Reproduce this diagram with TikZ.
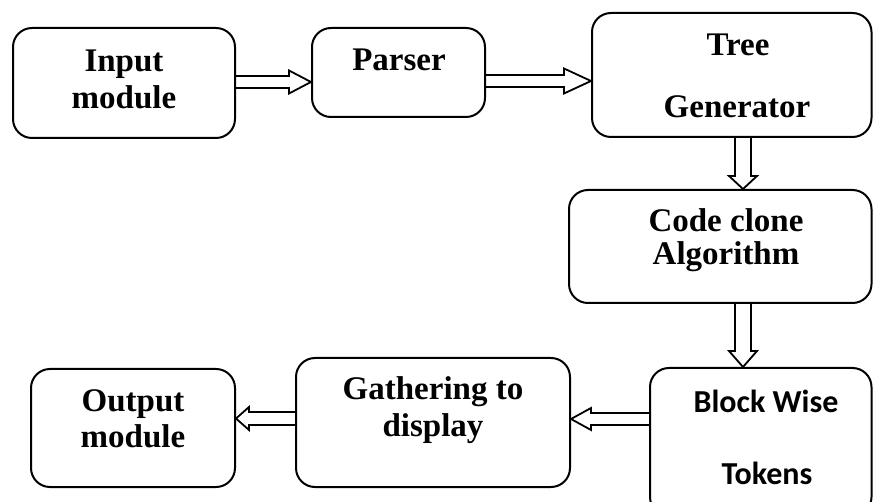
\documentclass[tikz,border=0pt]{standalone}
\usepackage{fontspec}
\setmainfont{Liberation Serif}
\newfontfamily\calfont{Carlito}
\usetikzlibrary{calc}
\tikzset{
  box/.style={draw, line width=2pt, rounded corners=19pt, inner sep=0pt},
  lbl/.style={anchor=base, inner sep=0pt, font=\fontsize{33}{38}\selectfont\bfseries},
  slbl/.style={anchor=base, inner sep=0pt, font=\fontsize{32}{38}\selectfont\calfont\bfseries},
  arrowline/.style={draw, line width=1.8pt, line join=miter}
}
% horizontal hollow arrow: start, end, shaft half-width, head half-width, head length
\newcommand{\harrow}[5]{%
  \draw[arrowline] let \p1=#1, \p2=#2, \n1={sign(\x2-\x1)} in
    (\x1,\y1+#3) -- (\x2-\n1*#5,\y1+#3) -- (\x2-\n1*#5,\y1+#4) -- (\x2,\y1)
    -- (\x2-\n1*#5,\y1-#4) -- (\x2-\n1*#5,\y1-#3) -- (\x1,\y1-#3);}
% vertical hollow arrow
\newcommand{\varrow}[5]{%
  \draw[arrowline] let \p1=#1, \p2=#2, \n1={sign(\y2-\y1)} in
    (\x1+#3,\y1) -- (\x1+#3,\y2-\n1*#5) -- (\x1+#4,\y2-\n1*#5) -- (\x1,\y2)
    -- (\x1-#4,\y2-\n1*#5) -- (\x1-#3,\y2-\n1*#5) -- (\x1-#3,\y1);}
\begin{document}
\begin{tikzpicture}[x=1pt, y=-1pt]
\path[use as bounding box, clip] (0,0) rectangle (873,502);
\fill[white] (0,0) rectangle (873,502);

% boxes
\node[box, minimum width=222pt, minimum height=110pt] (in) at (124,83) {};
\node[box, minimum width=173pt, minimum height=89pt] (parser) at (398.5,72.5) {};
\node[box, minimum width=279.5pt, minimum height=124pt] (tree) at (731.75,75) {};
\node[box, minimum width=302.5pt, minimum height=113pt] (code) at (720.25,246.5) {};
\node[box, minimum width=221.5pt, minimum height=148pt] (block) at (760.75,442) {};
\node[box, minimum width=274pt, minimum height=129pt] (gather) at (433,422.5) {};
\node[box, minimum width=204pt, minimum height=118pt] (out) at (133,428) {};

% texts
\node[lbl] (t1a) at (124,72) {Input};
\node[lbl] (t1b) at (124,109) {module};
\node[lbl] (t2) at (399,71) {Parser};
\node[lbl] (t3a) at (738,56) {Tree};
\node[lbl] (t3b) at (737,118) {Generator};
\node[lbl] (t4a) at (726,232) {Code clone};
\node[lbl] (t4b) at (726,265) {Algorithm};
\node[slbl] (t5a) at (766,413) {Block Wise};
\node[slbl] (t5b) at (767,484) {Tokens};
\node[lbl] (t6a) at (433,400) {Gathering to};
\node[lbl] (t6b) at (433,437) {display};
\node[lbl] (t7a) at (133,412) {Output};
\node[lbl] (t7b) at (133,448) {module};

% connectors
\harrow{(in.east |- 0,82)}{(parser.west |- 0,82)}{6pt}{11.5pt}{22pt}
\harrow{(parser.east |- 0,81)}{(tree.west |- 0,81)}{6pt}{12.5pt}{27pt}
\varrow{(743,0 |- tree.south)}{(743,0 |- code.north)}{8pt}{14pt}{13pt}
\varrow{(743,0 |- code.south)}{(743,0 |- block.north)}{8pt}{14pt}{16pt}
\harrow{(block.west |- 0,419)}{(gather.east |- 0,419)}{6pt}{11pt}{20pt}
\harrow{(gather.west |- 0,418.5)}{(out.east |- 0,418.5)}{6.5pt}{11.5pt}{13pt}
\end{tikzpicture}
\end{document}
